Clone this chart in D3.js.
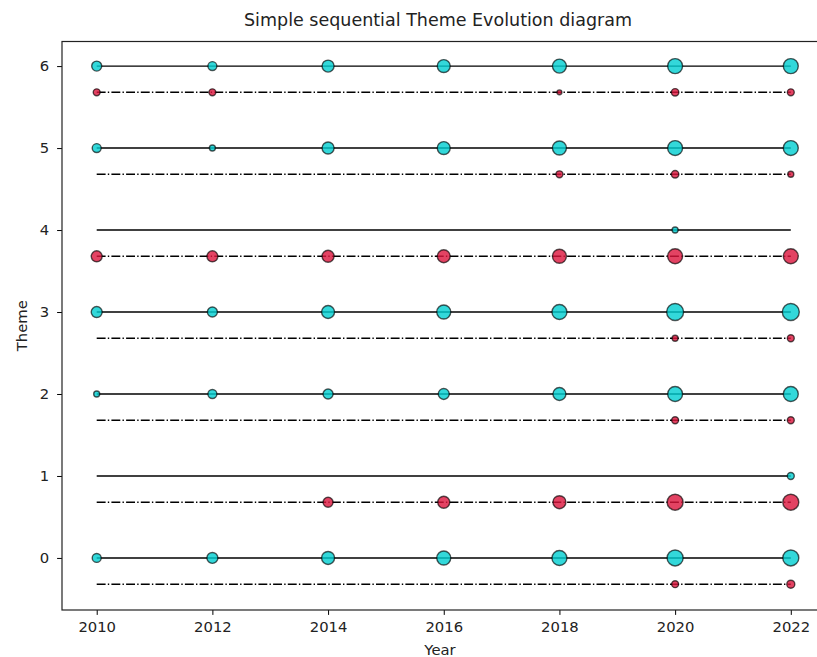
<!DOCTYPE html>
<html>
<head>
<meta charset="utf-8">
<script src="https://cdn.jsdelivr.net/npm/d3@7"></script>
<style>
  body { margin: 0; background: #fff; }
  svg { font-family: "DejaVu Sans", sans-serif; display: block; }
</style>
</head>
<body>
<svg id="chart"></svg>
<script>
var years = [2010, 2012, 2014, 2016, 2018, 2020, 2022];
var themes = [0, 1, 2, 3, 4, 5, 6];
var yTicks = [0, 1, 2, 3, 4, 5, 6];
var redOffset = -0.32;

// bubble sizes (area units), 0 = no bubble
var cyanSizes = [
    [20, 30, 42, 49, 56, 64, 64],   // theme 0
    [0, 0, 0, 0, 0, 0, 12],         // theme 1
    [9, 20, 25, 30, 42, 56, 56],    // theme 2
    [30, 25, 42, 49, 56, 72, 72],   // theme 3
    [0, 0, 0, 0, 0, 9, 0],          // theme 4
    [20, 9, 36, 42, 49, 56, 56],    // theme 5
    [25, 20, 36, 42, 49, 56, 56]    // theme 6
];
var redSizes = [
    [0, 0, 0, 0, 0, 12, 16],        // theme 0
    [0, 0, 25, 36, 42, 64, 64],     // theme 1
    [0, 0, 0, 0, 0, 12, 12],        // theme 2
    [0, 0, 0, 0, 0, 9, 12],         // theme 3
    [30, 30, 36, 42, 49, 56, 56],   // theme 4
    [0, 0, 0, 0, 12, 14, 9],        // theme 5
    [12, 12, 0, 0, 6, 14, 12]       // theme 6
];

var width = 817, height = 657;
var mLeft = 62, mTop = 41.5, mRight = 825.5, mBottom = 610;

var svg = d3.select('#chart')
    .attr('width', width)
    .attr('height', height);

var x = d3.scaleLinear().domain([2009.4, 2022.6]).range([mLeft, mRight]);
var y = d3.scaleLinear().domain([-0.635, 6.3]).range([mBottom, mTop]);
var r = d3.scaleSqrt().domain([0, 100]).range([0, 10]);

// lines
themes.forEach(t => {
    svg.append('line')
        .attr('x1', x(years[0])).attr('x2', x(years[years.length - 1]))
        .attr('y1', y(t)).attr('y2', y(t))
        .attr('stroke', '#000').attr('stroke-width', 1.4);
    svg.append('line')
        .attr('x1', x(years[0])).attr('x2', x(years[years.length - 1]))
        .attr('y1', y(t + redOffset)).attr('y2', y(t + redOffset))
        .attr('stroke', '#000').attr('stroke-width', 1.4)
        .attr('stroke-dasharray', '8.9,2.2,1.4,2.2');
});

function bubbles(sizes, offset, color) {
    var pts = [];
    sizes.forEach((row, t) => row.forEach((s, i) => {
        if (s > 0) pts.push({year: years[i], theme: t + offset, size: s});
    }));
    svg.append('g').selectAll('circle')
        .data(pts)
        .enter()
        .append('circle')
            .attr('cx', d => x(d.year))
            .attr('cy', d => y(d.theme))
            .attr('r', d => r(d.size))
            .attr('fill', color)
            .attr('fill-opacity', 0.8)
            .attr('stroke', '#000')
            .attr('stroke-opacity', 0.65)
            .attr('stroke-width', 1.4);
}
bubbles(cyanSizes, 0, '#00CED1');
bubbles(redSizes, redOffset, '#DC143C');

// axes
svg.append('g')
    .attr('transform', 'translate(0,' + mBottom + ')')
    .call(d3.axisBottom(x).tickValues(years).tickFormat(d3.format('d')).tickSize(4.9).tickPadding(7))
    .call(g => g.select('.domain').remove())
    .selectAll('text').attr('font-size', 14.8).attr('fill', '#222')
        .attr('font-family', '"DejaVu Sans", sans-serif');
svg.append('g')
    .attr('transform', 'translate(' + mLeft + ',0)')
    .call(d3.axisLeft(y).tickValues(yTicks).tickFormat(d3.format('d')).tickSize(4.9).tickPadding(8))
    .call(g => g.select('.domain').remove())
    .selectAll('text').attr('font-size', 14.8).attr('fill', '#222')
        .attr('font-family', '"DejaVu Sans", sans-serif');

// frame
svg.append('rect')
    .attr('x', mLeft).attr('y', mTop)
    .attr('width', mRight - mLeft).attr('height', mBottom - mTop)
    .attr('fill', 'none').attr('stroke', '#222').attr('stroke-width', 1.2);

svg.append('text')
    .attr('x', 438).attr('y', 26)
    .attr('text-anchor', 'middle').attr('font-size', 17.5).attr('fill', '#222')
    .text('Simple sequential Theme Evolution diagram');
svg.append('text')
    .attr('x', 440).attr('y', 655)
    .attr('text-anchor', 'middle').attr('font-size', 14.8).attr('fill', '#222')
    .text('Year');
svg.append('text')
    .attr('transform', 'translate(27,' + ((mTop + mBottom) / 2) + ') rotate(-90)')
    .attr('text-anchor', 'middle').attr('font-size', 14.8).attr('fill', '#222')
    .text('Theme');
</script>
</body>
</html>
